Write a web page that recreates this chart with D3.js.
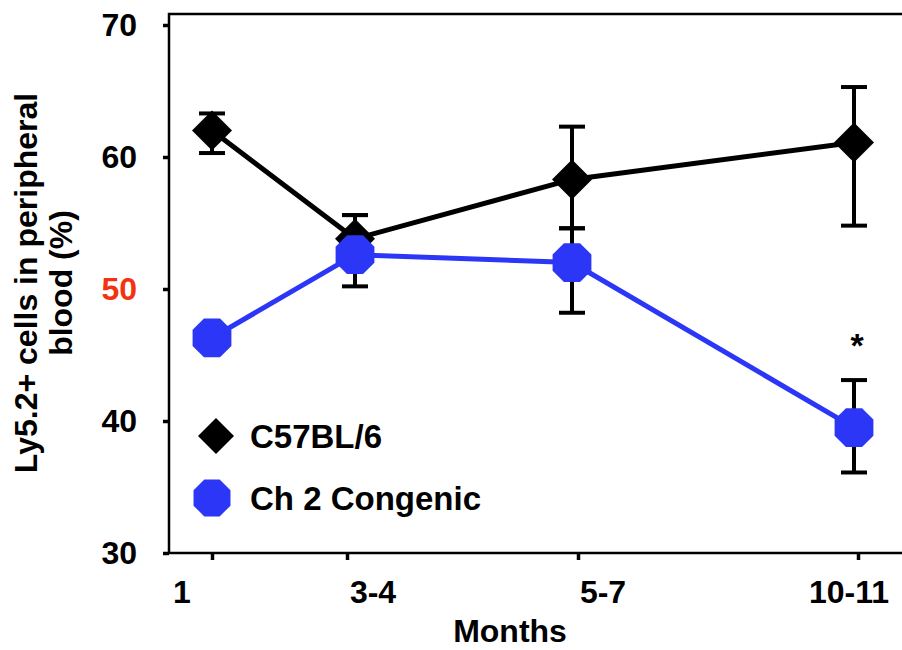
<!DOCTYPE html>
<html>
<head>
<meta charset="utf-8">
<script src="https://cdn.jsdelivr.net/npm/d3@7"></script>
<style>
  body { margin: 0; background: #fff; }
  svg { display: block; font-family: "Liberation Sans", Arial, sans-serif; font-weight: bold; }
</style>
</head>
<body>
<div id="chart"></div>
<script>
const months = ["1", "3-4", "5-7", "10-11"];
const yTicks = [30, 40, 50, 60, 70];

const b6Mean = [62.0, 53.8, 58.3, 61.1];
const b6Low = [60.3, 52.0, 54.6, 54.8];
const b6High = [63.3, 55.6, 62.3, 65.3];

const congMean = [46.3, 52.6, 52.0, 39.5];
const congLow = [45.6, 50.2, 48.2, 36.1];
const congHigh = [47.0, 55.6, 54.6, 43.1];

const w = 902;
const h = 650;
const margin = { top: 14, bottom: 97, left: 169, right: 0 };

const black = "#000";
const blue = "#2b36f7";

const svg = d3.select("#chart")
  .append("svg")
  .attr("width", w)
  .attr("height", h);

// points, axis ticks and tick labels sit at slightly different spots in the original
const x = d3.scaleOrdinal().domain(months).range([212, 355, 572, 854]);
const xTick = d3.scaleOrdinal().domain(months).range([212, 347, 578, 858]);
const xLabel = d3.scaleOrdinal().domain(months).range([182, 373, 603, 849]);

const y = d3.scaleLinear()
  .domain([30, 70])
  .range([553, 25]);

// frame
svg.append("path")
  .attr("d", `M${w},${margin.top}H${margin.left}V${h - margin.bottom}H${w}`)
  .attr("fill", "none")
  .attr("stroke", black)
  .attr("stroke-width", 2.5);

// y axis
const yAxis = svg.append("g")
  .attr("transform", `translate(${margin.left},0)`)
  .call(d3.axisLeft(y).tickValues(yTicks).tickSize(6).tickPadding(26).tickFormat(d3.format("d")));
yAxis.select(".domain").remove();
yAxis.selectAll(".tick line").attr("stroke-width", 3.5);
yAxis.selectAll(".tick text")
  .attr("font-size", 32)
  .attr("font-family", "Liberation Sans, Arial, sans-serif")
  .attr("font-weight", "bold")
  .attr("fill", d => d === 50 ? "#f2330f" : black);

// x axis ticks
const xAxis = svg.append("g")
  .attr("transform", `translate(0,${h - margin.bottom})`)
  .call(d3.axisBottom(xTick).tickValues(months).tickSize(7).tickFormat(""));
xAxis.select(".domain").remove();
xAxis.selectAll(".tick line").attr("stroke-width", 3.5);

svg.append("g")
  .selectAll("text")
  .data(months)
  .join("text")
    .attr("x", d => xLabel(d))
    .attr("y", 603)
    .attr("text-anchor", "middle")
    .attr("font-size", 32)
    .text(d => d);

svg.append("text")
  .attr("x", 510)
  .attr("y", 642)
  .attr("text-anchor", "middle")
  .attr("font-size", 32)
  .text("Months");

const yTitle = svg.append("text")
  .attr("transform", `translate(37,283) rotate(-90)`)
  .attr("text-anchor", "middle")
  .attr("font-size", 32);
yTitle.append("tspan").attr("x", 0).attr("dy", 0).text("Ly5.2+ cells in peripheral");
yTitle.append("tspan").attr("x", 0).attr("dy", 35).text("blood (%)");

// series
const series = [
  { name: "C57BL/6", color: black, mean: b6Mean, low: b6Low, high: b6High, shape: "diamond" },
  { name: "Ch 2 Congenic", color: blue, mean: congMean, low: congLow, high: congHigh, shape: "octagon" }
];

const line = d3.line()
  .x(d => x(d.m))
  .y(d => y(d.v));

const rows = s => months.map((m, i) => ({ m, v: s.mean[i], lo: s.low[i], hi: s.high[i] }));

series.forEach(s => {
  svg.append("path")
    .datum(rows(s))
    .attr("d", line)
    .attr("fill", "none")
    .attr("stroke", s.color)
    .attr("stroke-width", 5);
});

// error bars
series.forEach(s => {
  const g = svg.append("g").attr("stroke", black).attr("stroke-width", 4);
  const r = rows(s);
  g.selectAll(".stem").data(r).join("line")
    .attr("x1", d => x(d.m)).attr("x2", d => x(d.m))
    .attr("y1", d => y(d.lo)).attr("y2", d => y(d.hi));
  g.selectAll(".capHi").data(r).join("line")
    .attr("x1", d => x(d.m) - 13).attr("x2", d => x(d.m) + 13)
    .attr("y1", d => y(d.hi)).attr("y2", d => y(d.hi));
  g.selectAll(".capLo").data(r).join("line")
    .attr("x1", d => x(d.m) - 13).attr("x2", d => x(d.m) + 13)
    .attr("y1", d => y(d.lo)).attr("y2", d => y(d.lo));
});

function markerPath(shape, r) {
  if (shape === "diamond") {
    return `M0,${-r}L${r},0L0,${r}L${-r},0Z`;
  }
  const pts = d3.range(8).map(k => {
    const a = Math.PI / 8 + k * Math.PI / 4;
    return [r * Math.cos(a), r * Math.sin(a)];
  });
  return "M" + pts.map(p => p.join(",")).join("L") + "Z";
}

series.forEach(s => {
  svg.append("g")
    .selectAll("path")
    .data(rows(s))
    .join("path")
      .attr("transform", d => `translate(${x(d.m)},${y(d.v)})`)
      .attr("d", markerPath(s.shape, s.shape === "diamond" ? 20 : 21))
      .attr("fill", s.color);
});

// significance mark
svg.append("text")
  .attr("x", x("10-11") + 3)
  .attr("y", 357)
  .attr("text-anchor", "middle")
  .attr("font-size", 34)
  .text("*");

// legend
const legend = svg.append("g");
series.forEach((s, i) => {
  const ly = 436 + i * 62;
  legend.append("path")
    .attr("transform", `translate(${s.shape === "diamond" ? 216 : 212},${ly})`)
    .attr("d", markerPath(s.shape, s.shape === "diamond" ? 18 : 20))
    .attr("fill", s.color);
  legend.append("text")
    .attr("x", 250)
    .attr("y", ly + 12)
    .attr("font-size", 33)
    .text(s.name);
});
</script>
</body>
</html>
